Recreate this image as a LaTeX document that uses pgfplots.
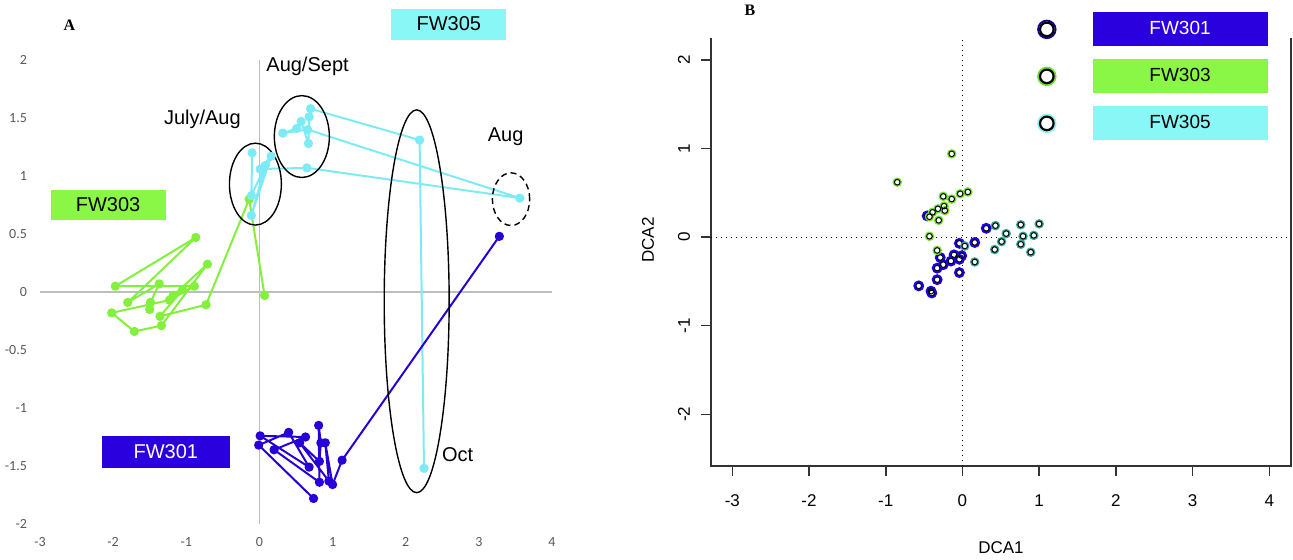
\documentclass[border=0pt]{standalone}
\usepackage{pgfplots}
\usepackage{pgfplotstable}
\pgfplotsset{compat=1.18}
\usepackage{fontspec}
\setmainfont{Liberation Sans}
\newfontfamily\carlito{Carlito}
\newfontfamily\tnr{Liberation Serif}
\definecolor{cA1}{RGB}{40,0,215}
\definecolor{cA3}{RGB}{130,240,60}
\definecolor{cA5}{RGB}{125,235,245}
\definecolor{box1}{RGB}{42,0,222}
\definecolor{box3}{RGB}{138,247,70}
\definecolor{box5}{RGB}{138,247,247}
\definecolor{tealB}{RGB}{55,165,145}
\definecolor{blueB}{RGB}{30,0,230}
\definecolor{greenB}{RGB}{110,225,40}
\definecolor{axgray}{RGB}{190,190,190}

% Panel A trajectories
\pgfplotstableread{
x y
-1.50 -0.15
-1.49 -0.09
-1.37 0.07
-1.80 -0.09
-0.87 0.47
-1.97 0.05
-0.89 0.05
-1.23 -0.07
-2.02 -0.18
-1.71 -0.34
-1.34 -0.29
-0.71 0.24
-1.18 -0.03
-1.05 0.02
-1.36 -0.21
-0.73 -0.11
-0.14 0.80
0.07 -0.03
}\Athree
\pgfplotstableread{
x y
-0.10 1.20
-0.11 0.83
0.08 1.09
-0.11 0.66
0.16 1.17
0.01 1.06
0.65 1.07
3.56 0.81
0.66 1.40
0.32 1.37
0.51 1.41
0.57 1.47
0.67 1.28
0.68 1.51
0.70 1.58
2.19 1.31
2.25 -1.52
}\Afive
\pgfplotstableread{
x y
0.74 -1.78
-0.01 -1.32
0.40 -1.21
0.68 -1.51
0.01 -1.24
0.63 -1.25
0.20 -1.36
0.82 -1.64
0.81 -1.15
0.84 -1.30
0.82 -1.46
0.55 -1.30
0.95 -1.63
0.90 -1.30
1.00 -1.66
1.13 -1.45
3.28 0.48
}\Aone

% Panel B DCA scores
\pgfplotstableread{
x y
-0.46 0.24
0.31 0.10
-0.04 -0.07
0.16 -0.06
-0.29 -0.23
-0.11 -0.20
-0.01 -0.21
-0.04 -0.25
-0.15 -0.27
-0.25 -0.31
-0.33 -0.35
-0.33 -0.48
-0.04 -0.40
-0.57 -0.55
-0.41 -0.61
-0.40 -0.63
}\Bone
\pgfplotstableread{
x y
-0.14 0.94
-0.85 0.62
-0.25 0.46
-0.14 0.43
-0.03 0.49
0.07 0.51
-0.32 0.32
-0.24 0.35
-0.23 0.30
-0.39 0.28
-0.43 0.23
-0.31 0.19
-0.43 0.01
-0.33 -0.15
}\Bthree
\pgfplotstableread{
x y
0.43 0.13
0.57 0.04
0.76 0.14
1.00 0.15
0.79 0.01
0.93 0.02
0.51 -0.05
0.42 -0.14
0.76 -0.08
0.89 -0.17
0.16 -0.28
0.03 -0.10
}\Bfive

\begin{document}
\begin{tikzpicture}
\useasboundingbox (0,0) rectangle (646.5pt,280pt);
% ---------------- Panel A ----------------
\begin{axis}[
  at={(20pt,18pt)}, anchor=south west,
  width=256pt, height=232pt, scale only axis,
  xmin=-3, xmax=4, ymin=-2, ymax=2,
  clip=false,
  axis line style={draw=none},
  major tick length=0pt,
  xtick={-3,-2,-1,0,1,2,3,4}, xticklabels={-3,-2,-1,0,1,2,3,4},
  ytick={-2,-1.5,-1,-0.5,0,0.5,1,1.5,2},
  yticklabels={-2,-1.5,-1,-0.5,0,0.5,1,1.5,2},
  ticklabel style={font=\carlito\fontsize{7}{8}\selectfont, text=black!65},
  yticklabel style={xshift=-3pt},
  xticklabel style={yshift=-3pt},
]
\draw[axgray, line width=0.8pt] (axis cs:-3,0) -- (axis cs:4,0);
\draw[axgray, line width=0.8pt] (axis cs:0,-2) -- (axis cs:0,2);
\addplot[cA3, line width=1pt, line join=round, mark=*, mark size=1.8pt] table {\Athree};
\addplot[cA5, line width=1pt, line join=round, mark=*, mark size=1.8pt] table {\Afive};
\addplot[cA1, line width=1pt, line join=round, mark=*, mark size=1.8pt] table {\Aone};
\draw[black, line width=0.7pt] (axis cs:-0.055,0.93) ellipse [x radius=0.355, y radius=0.353];
\draw[black, line width=0.7pt] (axis cs:0.58,1.34) ellipse [x radius=0.376, y radius=0.353];
\draw[black, line width=0.7pt] (axis cs:2.15,-0.08) ellipse [x radius=0.444, y radius=1.65];
\draw[black, line width=0.7pt, dash pattern=on 3pt off 2pt] (axis cs:3.44,0.80) ellipse [x radius=0.255, y radius=0.227];
\node[font=\fontsize{10}{12}\selectfont, anchor=base] at (axis cs:-0.78,1.448) {July/Aug};
\node[font=\fontsize{10}{12}\selectfont, anchor=base west, inner sep=0pt] at (axis cs:0.09,1.90) {Aug/Sept};
\node[font=\fontsize{10}{12}\selectfont, anchor=base] at (axis cs:3.366,1.296) {Aug};
\node[font=\fontsize{10}{12}\selectfont, anchor=base] at (axis cs:2.71,-1.463) {Oct};
\node[fill=box5, minimum width=57.5pt, minimum height=15.5pt, inner sep=0pt, font=\fontsize{10}{12}\selectfont] at (axis cs:2.59,2.31) {FW305};
\node[fill=box3, minimum width=57.5pt, minimum height=15.3pt, inner sep=0pt, font=\fontsize{10}{12}\selectfont] at (axis cs:-2.07,0.75) {FW303};
\node[fill=box1, text=white, minimum width=64pt, minimum height=16.3pt, inner sep=0pt, font=\fontsize{10}{12}\selectfont] at (axis cs:-1.28,-1.38) {FW301};
\end{axis}
\node[font=\tnr\bfseries\fontsize{8}{9}\selectfont] at (34.65pt,267.5pt) {A};
% ---------------- Panel B ----------------
\begin{axis}[
  at={(355.5pt,47pt)}, anchor=south west,
  width=290pt, height=214pt, scale only axis,
  xmin=-3.278, xmax=4.283, ymin=-2.583, ymax=2.248,
  clip=false,
  axis line style={draw=none},
  tick align=outside, major tick length=5pt,
  tick style={line width=0.75pt, black!80},
  tick pos=left,
  xtick={-3,-2,-1,0,1,2,3,4}, xticklabels={-3,-2,-1,0,1,2,3,4},
  ytick={-2,-1,0,1,2}, yticklabels={-2,-1,0,1,2},
  ticklabel style={font=\fontsize{8.5}{10}\selectfont},
  yticklabel style={rotate=90, anchor=south, yshift=2pt},
  xticklabel style={yshift=-6pt},
  xlabel={DCA1}, ylabel={DCA2},
  every axis x label/.style={at={(axis description cs:0.5,0)}, anchor=center, yshift=-41pt, font=\fontsize{8.5}{10}\selectfont},
  every axis y label/.style={at={(axis description cs:0,0.528)}, anchor=center, xshift=-31.5pt, rotate=90, font=\fontsize{8.5}{10}\selectfont},
  legend style={draw=none, fill=none, inner sep=0pt, outer sep=0pt, at={(axis cs:3.977,2.537)}, anchor=north east, row sep=6.5pt, /tikz/every odd column/.append style={column sep=18pt}, font=\fontsize{9.5}{11}\selectfont},
  legend cell align=center,
]
\draw[black!80, line width=0.75pt] (rel axis cs:0,1) -- (rel axis cs:0,0) -- (rel axis cs:1,0) -- (rel axis cs:1,1);
\draw[black, line width=0.5pt, dotted] (axis cs:0,-2.583) -- (axis cs:0,2.248);
\draw[black, line width=0.5pt, dotted] (axis cs:-3.278,0) -- (axis cs:4.283,0);
\addplot[only marks, forget plot, mark=*, mark size=2.1pt, mark options={draw=blueB, fill=white, line width=1.2pt}] table {\Bone};
\addplot[only marks, forget plot, mark=o, mark size=1.4pt, mark options={draw=black, line width=0.5pt}] table {\Bone};
\addplot[only marks, forget plot, mark=*, mark size=1.9pt, mark options={draw=greenB, fill=white, line width=0.9pt}] table {\Bthree};
\addplot[only marks, forget plot, mark=o, mark size=1.4pt, mark options={draw=black, line width=0.5pt}] table {\Bthree};
\addplot[only marks, forget plot, mark=*, mark size=1.9pt, mark options={draw=tealB, fill=white, line width=0.9pt}] table {\Bfive};
\addplot[only marks, forget plot, mark=o, mark size=1.4pt, mark options={draw=black, line width=0.5pt}] table {\Bfive};
\addlegendimage{legend image code/.code={\draw[blueB!60!black, line width=0.9pt, fill=white] (0pt,0pt) circle (4.4pt); \draw[black, line width=1.1pt] (0pt,0pt) circle (3.4pt);}}
\addlegendentry[fill=box1, text=white, minimum width=87.5pt, minimum height=17pt, inner sep=0pt]{FW301}
\addlegendimage{legend image code/.code={\draw[greenB, line width=0.9pt, fill=white] (0pt,0pt) circle (4.4pt); \draw[black, line width=1.1pt] (0pt,0pt) circle (3.4pt);}}
\addlegendentry[fill=box3, minimum width=87.5pt, minimum height=17pt, inner sep=0pt]{FW303}
\addlegendimage{legend image code/.code={\draw[box5, line width=0.9pt, fill=white] (0pt,0pt) circle (4.4pt); \draw[black, line width=1.1pt] (0pt,0pt) circle (3.4pt);}}
\addlegendentry[fill=box5, minimum width=87.5pt, minimum height=17pt, inner sep=0pt]{FW305}
\end{axis}
\node[font=\tnr\bfseries\fontsize{8}{9}\selectfont] at (375pt,275pt) {B};
\end{tikzpicture}
\end{document}
